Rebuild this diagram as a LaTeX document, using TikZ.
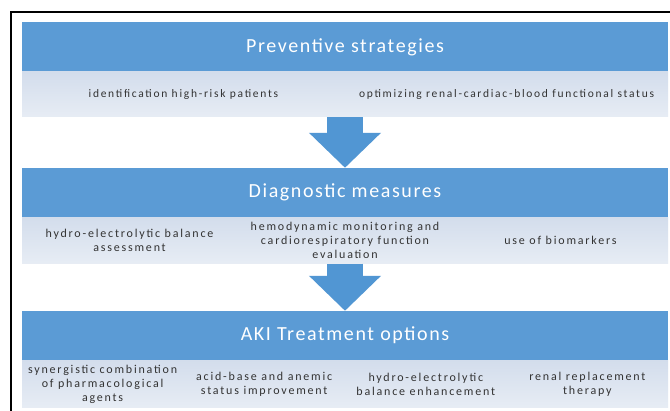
\documentclass[tikz,border=0pt]{standalone}
\usepackage{fontspec}
\setmainfont{Carlito}
\newfontfamily\titolfont[LetterSpace=8]{Carlito}
\newfontfamily\celfont[LetterSpace=15]{Carlito}
\usetikzlibrary{positioning,calc,arrows.meta}
\definecolor{blauCap}{HTML}{5B9BD5}
\definecolor{blauFila}{HTML}{D3DDEC}
\definecolor{blauFletxa}{HTML}{5196D3}
\definecolor{grisText}{HTML}{333333}

\begin{document}
\begin{tikzpicture}[x=1pt, y=-1pt,
        capcalera/.style={rectangle, fill=blauCap, text=white, minimum width=646pt, minimum height=49pt, inner sep=0pt, font=\titolfont\fontsize{20}{22}\selectfont},
        fila/.style={rectangle, top color=blauFila, bottom color=blauFila!55!white, minimum width=646pt, inner sep=0pt},
        cel/.style={text=grisText, align=center, inner sep=1pt, font=\celfont\fontsize{12}{14}\selectfont},
        fletxa/.style={draw=blauFletxa, line width=36pt, -{Triangle[width=70pt,length=35pt]}}]
        % Fons i marc exterior
        \fill[white] (0,0) rectangle (670,411);
        \useasboundingbox (0,0) rectangle (670,411);
        \draw[line width=1.2pt] (11,411) -- (11,12) -- (670,12);
        
        % Primer bloc: estratègies preventives
        \node[capcalera] (capcalera1) at (345,47) {Preventive strategies};
        \node[fila, minimum height=45pt, below=0pt of capcalera1] (fila1) {};
        \node[cel, font=\celfont\fontsize{11.5}{14}\selectfont] (prev1) at ($(fila1.west)!0.25!(fila1.east)$) {identification high-risk patients};
        \node[cel, font=\celfont\fontsize{11.5}{14}\selectfont] (prev2) at ($(fila1.west)!0.75!(fila1.east)$) {optimizing renal-cardiac-blood functional status};
        
        % Segon bloc: mesures diagnòstiques
        \node[capcalera] (capcalera2) at (345,192.5) {Diagnostic measures};
        \node[fila, minimum height=46pt, below=0pt of capcalera2] (fila2) {};
        \node[cel] (diag1) at ($(fila2.west)!1/6!(fila2.east)$) {hydro-electrolytic balance\\assessment};
        \node[cel] (diag2) at ($(fila2.west)!3/6!(fila2.east)$) {hemodynamic monitoring and\\cardiorespiratory function\\evaluation};
        \node[cel] (diag3) at ($(fila2.west)!5/6!(fila2.east)$) {use of biomarkers};
        
        % Tercer bloc: opcions de tractament
        \node[capcalera] (capcalera3) at (345,335.5) {AKI Treatment options};
        \node[fila, minimum height=47pt, below=0pt of capcalera3] (fila3) {};
        \node[cel] (tract1) at ($(fila3.west)!1/8!(fila3.east)$) {synergistic combination\\of pharmacological\\agents};
        \node[cel] (tract2) at ($(fila3.west)!3/8!(fila3.east)$) {acid-base and anemic\\status improvement};
        \node[cel] (tract3) at ($(fila3.west)!5/8!(fila3.east)$) {hydro-electrolytic\\balance enhancement};
        \node[cel] (tract4) at ($(fila3.west)!7/8!(fila3.east)$) {renal replacement\\therapy};
        
        % Fletxes entre blocs
        \draw[fletxa] (fila1.south) -- (capcalera2.north);
        \draw[fletxa] (fila2.south) -- (capcalera3.north);

    \end{tikzpicture}
\end{document}
